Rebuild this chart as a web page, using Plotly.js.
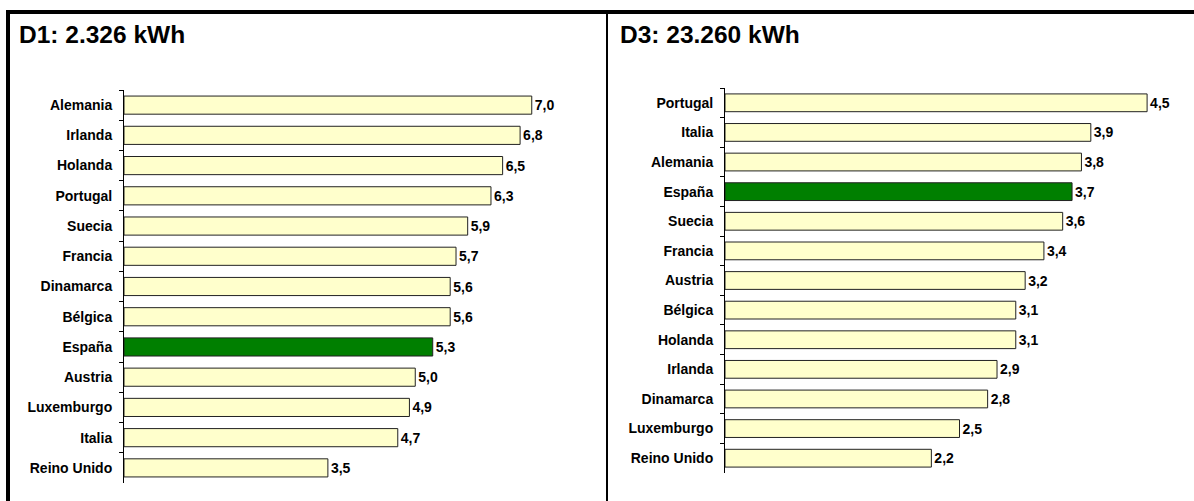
<!DOCTYPE html>
<html>
<head>
<meta charset="utf-8">
<script src="https://cdn.plot.ly/plotly-3.0.1.min.js"></script>
<style>html,body{margin:0;padding:0;background:#fff}#chart{width:1194px;height:501px}</style>
</head>
<body>
<div id="chart"></div>
<script>
// D1: 2.326 kWh (top to bottom)
const d1Countries = ["Alemania","Irlanda","Holanda","Portugal","Suecia","Francia","Dinamarca","Bélgica","España","Austria","Luxemburgo","Italia","Reino Unido"];
const d1Values = [7.0,6.8,6.5,6.3,5.9,5.7,5.6,5.6,5.3,5.0,4.9,4.7,3.5];
// D3: 23.260 kWh (top to bottom)
const d3Countries = ["Portugal","Italia","Alemania","España","Suecia","Francia","Austria","Bélgica","Holanda","Irlanda","Dinamarca","Luxemburgo","Reino Unido"];
const d3Values = [4.5,3.9,3.8,3.7,3.6,3.4,3.2,3.1,3.1,2.9,2.8,2.5,2.2];
const titles = ["D1: 2.326 kWh","D3: 23.260 kWh"];
const highlight = "España";

const W = 1194, H = 501;
const FONT = "Arial, 'Liberation Sans', sans-serif";
const fmt = v => v.toFixed(1).replace('.', ',');
const colors = cats => cats.map(c => c === highlight ? '#007F00' : '#FFFFCC');

function barTrace(cats, vals, xa, ya){
  return {
    type:'bar', orientation:'h',
    y: cats, x: vals, xaxis: xa, yaxis: ya,
    width: 0.6,
    marker:{color: colors(cats), line:{color:'#222222', width:1}},
    text: vals.map(fmt), textposition:'outside', cliponaxis:false,
    textfont:{family:FONT, size:14, color:'#000', weight:'bold'},
    hoverinfo:'none', showlegend:false
  };
}
const px = x => x / W;
const py = y => 1 - y / H;

const yCommon = {
  type:'category', autorange:'reversed', showline:true, linecolor:'#000', linewidth:1,
  ticks:'outside', ticklen:4, tickcolor:'#000', tickwidth:1, tickson:'boundaries',
  showgrid:false, zeroline:false, ticklabelstandoff:8,
  tickfont:{family:FONT, size:14, color:'#000', weight:'bold'}, fixedrange:true
};
const xCommon = {showline:false, showgrid:false, zeroline:false, showticklabels:false, ticks:'', fixedrange:true};

const layout = {
  width:W, height:H, margin:{l:0,r:0,t:0,b:0},
  paper_bgcolor:'#fff', plot_bgcolor:'rgba(0,0,0,0)',
  xaxis: Object.assign({}, xCommon, {domain:[px(124), px(590)], range:[0,8], anchor:'y'}),
  yaxis: Object.assign({}, yCommon, {domain:[py(483), py(90)], anchor:'x'}),
  xaxis2: Object.assign({}, xCommon, {domain:[px(725), px(1194)], range:[0,5], anchor:'y2'}),
  yaxis2: Object.assign({}, yCommon, {domain:[py(473), py(88)], anchor:'x2'}),
  annotations:[
    {text:titles[0], xref:'paper', yref:'paper', x:px(17), y:py(34), xanchor:'left', yanchor:'middle', showarrow:false,
     font:{family:FONT, size:24.5, color:'#000', weight:'bold'}},
    {text:titles[1], xref:'paper', yref:'paper', x:px(618), y:py(34), xanchor:'left', yanchor:'middle', showarrow:false,
     font:{family:FONT, size:24.5, color:'#000', weight:'bold'}}
  ],
  shapes:[
    {type:'line', xref:'paper', yref:'paper', x0:px(6), x1:1, y0:py(12), y1:py(12), line:{color:'#000', width:4}},
    {type:'line', xref:'paper', yref:'paper', x0:px(8), x1:px(8), y0:py(10), y1:0, line:{color:'#000', width:4}},
    {type:'line', xref:'paper', yref:'paper', x0:px(607), x1:px(607), y0:py(12), y1:0, line:{color:'#000', width:2}}
  ]
};

Plotly.newPlot('chart', [barTrace(d1Countries, d1Values, 'x', 'y'), barTrace(d3Countries, d3Values, 'x2', 'y2')], layout, {staticPlot:true});
</script>
</body>
</html>
